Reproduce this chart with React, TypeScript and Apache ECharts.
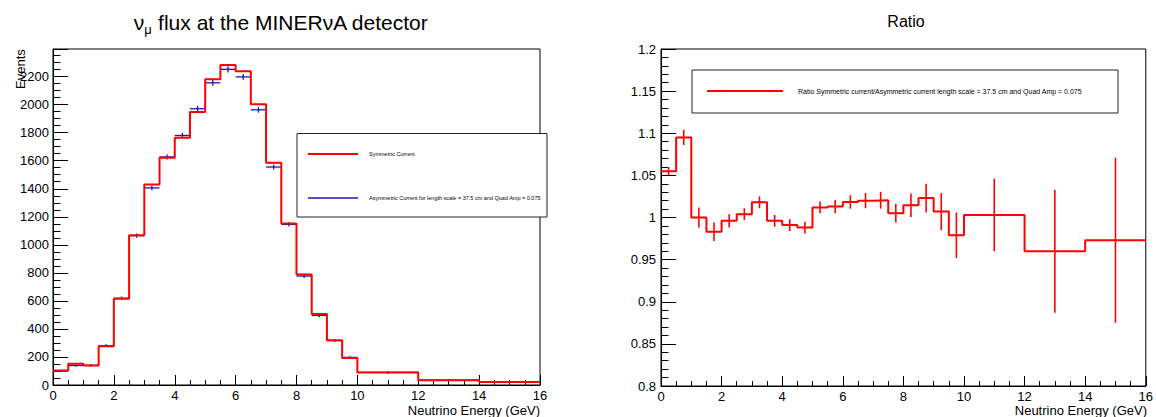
import React, { useEffect, useRef } from "react";
import * as echarts from "echarts";

// ---- data ----
const binEdges = [0, 0.5, 1, 1.5, 2, 2.5, 3, 3.5, 4, 4.5, 5, 5.5, 6, 6.5, 7, 7.5, 8, 8.5, 9, 9.5, 10, 12, 14, 16];
const symmetricCurrent = [104, 152, 140, 276, 616, 1069, 1431, 1621, 1764, 1947, 2181, 2283, 2238, 2002, 1586, 1152, 788, 507, 319, 193, 90, 33, 21];
const asymmetricCurrent = [99, 139, 140, 281, 619, 1065, 1406, 1627, 1780, 1971, 2156, 2252, 2198, 1963, 1555, 1146, 777, 496, 317, 197, 90, 35, 22];
const asymmetricErr = [1, 2, 2, 3, 5, 8, 10, 11, 12, 13, 14, 15, 14, 13, 11, 9, 7, 5, 4, 3, 2, 1, 1];
const ratioValues = [1.055, 1.095, 1.0, 0.983, 0.996, 1.004, 1.018, 0.996, 0.991, 0.988, 1.012, 1.013, 1.0185, 1.02, 1.0205, 1.005, 1.0146, 1.023, 1.007, 0.979, 1.003, 0.96, 0.973];
const ratioErr = [0.005, 0.009, 0.012, 0.011, 0.008, 0.007, 0.007, 0.007, 0.007, 0.007, 0.007, 0.008, 0.008, 0.009, 0.01, 0.011, 0.014, 0.017, 0.022, 0.027, 0.043, 0.073, 0.098];

const FONT = "'Liberation Sans', Arial, Helvetica, sans-serif";

function stepData(vals: number[]) {
  return binEdges.map((e, i) => [e, vals[Math.min(i, vals.length - 1)]]);
}

const plainNum = (v: number) => String(Math.round(v * 1000) / 1000);

export default function App() {
  const ref = useRef<HTMLDivElement>(null);
  useEffect(() => {
    if (!ref.current) return;
    const chart = echarts.init(ref.current, null, { renderer: "svg" });

    const xAxisBase = (gridIndex: number) => ({
      type: "value",
      gridIndex,
      min: 0,
      max: 16,
      interval: 2,
      axisLine: { show: true, onZero: false, lineStyle: { color: "#000", width: 1 } },
      axisTick: { show: true, inside: true, length: 10, lineStyle: { color: "#000" } },
      minorTick: { show: true, splitNumber: 4, length: 5, lineStyle: { color: "#000" } },
      splitLine: { show: false },
      axisLabel: { color: "#000", fontSize: 13, fontFamily: FONT, margin: 4, formatter: plainNum },
    });

    const blueBins = asymmetricCurrent.map((v, i) => [binEdges[i], binEdges[i + 1], v, asymmetricErr[i]]);
    const ratioBars = ratioValues.map((v, i) => [(binEdges[i] + binEdges[i + 1]) / 2, v, ratioErr[i]]);

    const option: any = {
      animation: false,
      backgroundColor: "#fff",
      textStyle: { fontFamily: FONT },
      grid: [
        { left: 53, top: 49, width: 487, height: 336, show: true, borderColor: "#000", borderWidth: 1, backgroundColor: "transparent" },
        { left: 661, top: 49, width: 486, height: 337, show: true, borderColor: "#000", borderWidth: 1, backgroundColor: "transparent" },
      ],
      xAxis: [xAxisBase(0), xAxisBase(1)],
      yAxis: [
        {
          type: "value",
          gridIndex: 0,
          min: 0,
          max: 2397,
          interval: 200,
          axisLine: { show: true, lineStyle: { color: "#000" } },
          axisTick: { show: true, inside: true, length: 15, lineStyle: { color: "#000" } },
          minorTick: { show: true, splitNumber: 4, length: 7.5, lineStyle: { color: "#000" } },
          splitLine: { show: false },
          axisLabel: { color: "#000", fontSize: 13, fontFamily: FONT, margin: 4, showMaxLabel: false, formatter: plainNum },
        },
        {
          type: "value",
          gridIndex: 1,
          min: 0.8,
          max: 1.2,
          interval: 0.05,
          axisLine: { show: true, lineStyle: { color: "#000" } },
          axisTick: { show: true, inside: true, length: 15, lineStyle: { color: "#000" } },
          minorTick: { show: true, splitNumber: 5, length: 7.5, lineStyle: { color: "#000" } },
          splitLine: { show: false },
          axisLabel: { color: "#000", fontSize: 13, fontFamily: FONT, margin: 5, formatter: plainNum },
        },
      ],
      series: [
        {
          type: "custom",
          name: "Asymmetric",
          xAxisIndex: 0,
          yAxisIndex: 0,
          clip: true,
          z: 2,
          data: blueBins,
          encode: { x: [0, 1], y: 2 },
          renderItem: (params: any, api: any) => {
            const lo = api.value(0), hi = api.value(1), v = api.value(2), e = api.value(3);
            const p1 = api.coord([lo, v]);
            const p2 = api.coord([hi, v]);
            const c = (lo + hi) / 2;
            const t = api.coord([c, v + e]);
            const b = api.coord([c, v - e]);
            const st = { stroke: "#1a1aa8", lineWidth: 1.3 };
            return {
              type: "group",
              children: [
                { type: "line", shape: { x1: p1[0], y1: p1[1], x2: p2[0], y2: p2[1] }, style: st },
                { type: "line", shape: { x1: t[0], y1: t[1] - 1, x2: b[0], y2: b[1] + 1 }, style: st },
              ],
            };
          },
        },
        {
          type: "line",
          name: "Symmetric",
          xAxisIndex: 0,
          yAxisIndex: 0,
          step: "end",
          symbol: "none",
          z: 3,
          data: stepData(symmetricCurrent),
          lineStyle: { color: "#ff0000", width: 2 },
        },
        {
          type: "line",
          name: "Ratio",
          xAxisIndex: 1,
          yAxisIndex: 1,
          step: "end",
          symbol: "none",
          z: 3,
          data: stepData(ratioValues),
          lineStyle: { color: "#ff0000", width: 2 },
        },
        {
          type: "custom",
          name: "RatioErr",
          xAxisIndex: 1,
          yAxisIndex: 1,
          clip: true,
          z: 3,
          data: ratioBars,
          encode: { x: 0, y: 1 },
          renderItem: (params: any, api: any) => {
            const c = api.value(0), v = api.value(1), e = api.value(2);
            const t = api.coord([c, v + e]);
            const b = api.coord([c, v - e]);
            return { type: "line", shape: { x1: t[0], y1: t[1], x2: b[0], y2: b[1] }, style: { stroke: "#ff0000", lineWidth: 1.6 } };
          },
        },
      ],
      graphic: [
        {
          type: "text",
          x: 281,
          y: 22,
          z: 100,
          style: {
            text: "{n|ν}{s|μ}{n| flux at the MINERνA detector}",
            align: "center",
            verticalAlign: "middle",
            fill: "#000",
            rich: {
              n: { fontSize: 21, fontFamily: FONT, lineHeight: 28, fill: "#000" },
              s: { fontSize: 13, fontFamily: FONT, lineHeight: 15, verticalAlign: "bottom", fill: "#000" },
            },
          },
        },
        {
          type: "text",
          x: 906,
          y: 21,
          z: 100,
          style: { text: "Ratio", fontSize: 16, fontFamily: FONT, align: "center", verticalAlign: "middle", fill: "#000" },
        },
        {
          type: "text",
          x: 20,
          y: 69,
          rotation: Math.PI / 2,
          z: 100,
          style: { text: "Events", fontSize: 13, fontFamily: FONT, align: "center", verticalAlign: "middle", fill: "#000" },
        },
        {
          type: "text",
          x: 540,
          y: 410,
          z: 100,
          style: { text: "Neutrino Energy (GeV)", fontSize: 13, fontFamily: FONT, align: "right", verticalAlign: "middle", fill: "#000" },
        },
        {
          type: "text",
          x: 1147,
          y: 410,
          z: 100,
          style: { text: "Neutrino Energy (GeV)", fontSize: 13, fontFamily: FONT, align: "right", verticalAlign: "middle", fill: "#000" },
        },
        // left legend
        {
          type: "rect",
          z: 100,
          shape: { x: 297, y: 133.5, width: 250, height: 83.5 },
          style: { fill: "#fff", stroke: "#222", lineWidth: 1 },
        },
        { type: "line", z: 101, shape: { x1: 308, y1: 154, x2: 358, y2: 154 }, style: { stroke: "#ff0000", lineWidth: 2 } },
        {
          type: "text",
          x: 369,
          y: 154,
          z: 101,
          style: { text: "Symmetric Current", fontSize: 5.5, fontFamily: FONT, align: "left", verticalAlign: "middle", fill: "#000" },
        },
        { type: "line", z: 101, shape: { x1: 308, y1: 198, x2: 358, y2: 198 }, style: { stroke: "#1a1aa8", lineWidth: 1.3 } },
        {
          type: "text",
          x: 369,
          y: 198,
          z: 101,
          style: {
            text: "Asymmetric Current for length scale = 37.5 cm and Quad Amp = 0.075",
            fontSize: 5.5,
            fontFamily: FONT,
            align: "left",
            verticalAlign: "middle",
            fill: "#000",
          },
        },
        // right legend
        {
          type: "rect",
          z: 100,
          shape: { x: 692, y: 70, width: 426, height: 43 },
          style: { fill: "#fff", stroke: "#222", lineWidth: 1 },
        },
        { type: "line", z: 101, shape: { x1: 707, y1: 91, x2: 783, y2: 91 }, style: { stroke: "#ff0000", lineWidth: 2 } },
        {
          type: "text",
          x: 798,
          y: 91,
          z: 101,
          style: {
            text: "Ratio Symmetric current/Asymmetric current length scale = 37.5 cm and Quad Amp = 0.075",
            fontSize: 7,
            fontFamily: FONT,
            align: "left",
            verticalAlign: "middle",
            fill: "#000",
          },
        },
      ],
    };

    chart.setOption(option);
    return () => chart.dispose();
  }, []);

  return (
    <div
      ref={ref}
      style={{ position: "absolute", left: 0, top: 0, width: 1156, height: 417, background: "#fff" }}
    />
  );
}
